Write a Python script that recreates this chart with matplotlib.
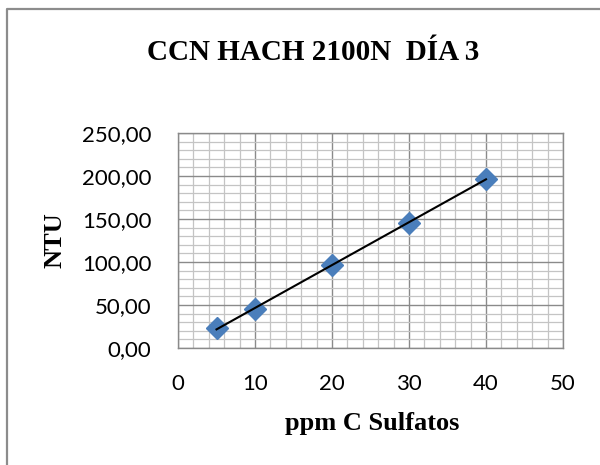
import numpy as np
import matplotlib
matplotlib.use("Agg")
import matplotlib.pyplot as plt
from matplotlib.ticker import MultipleLocator, FuncFormatter
from matplotlib.lines import Line2D

ppm = [5, 10, 20, 30, 40]
ntu = [23, 45, 97, 145, 197]
x_ticks = [0, 10, 20, 30, 40, 50]
y_ticks = [0, 50, 100, 150, 200, 250]

W, H = 600, 465
fig = plt.figure(figsize=(6, 4.65), dpi=100)
# outer chart frame (only top and left edges visible)
fig.lines.append(Line2D([7/W, 7/W, 1.0], [0.0, 1-9.5/H, 1-9.5/H], transform=fig.transFigure,
                        color="#8c8c8c", linewidth=1.6))
ax = fig.add_axes([178/W, 1-348/H, 385/W, 215/H])

ax.set_xlim(0, 50)
ax.set_ylim(0, 250)
ax.set_xticks(x_ticks)
ax.set_yticks(y_ticks)
ax.xaxis.set_minor_locator(MultipleLocator(2))
ax.yaxis.set_minor_locator(MultipleLocator(10))
ax.grid(which="major", color="#8a8a8a", linewidth=1.0)
ax.grid(which="minor", color="#c4c4c4", linewidth=0.9)
ax.set_axisbelow(True)
ax.tick_params(which="both", length=0)
ax.tick_params(axis="y", labelsize=16, pad=19)
ax.tick_params(axis="x", labelsize=16, pad=19)
ax.yaxis.set_major_formatter(FuncFormatter(lambda v, p: f"{v:.2f}".replace(".", ",")))
for lab in ax.get_xticklabels() + ax.get_yticklabels():
    lab.set_family("Lato")
for s in ax.spines.values():
    s.set_color("#8a8a8a")
    s.set_linewidth(1.0)

coef = np.polyfit(ppm, ntu, 1)
xs = np.array([min(ppm), max(ppm)])
ax.plot(ppm, ntu, linestyle="none", marker="D", markersize=11, color="#4a7ebb", zorder=3)
ax.plot(xs, np.polyval(coef, xs), color="black", linewidth=1.5, zorder=4)

fig.text(313/W, 1-52/H, "CCN HACH 2100N  DÍA 3", ha="center", va="center",
         fontsize=21, fontweight="bold", family="Liberation Serif")
fig.text(372/W, 1-423/H, "ppm C Sulfatos", ha="center", va="center",
         fontsize=19, fontweight="bold", family="Liberation Serif")
fig.text(55/W, 1-240/H, "NTU", ha="center", va="center", rotation=90,
         fontsize=19, fontweight="bold", family="Liberation Serif")

fig.savefig("out.png", dpi=100)
